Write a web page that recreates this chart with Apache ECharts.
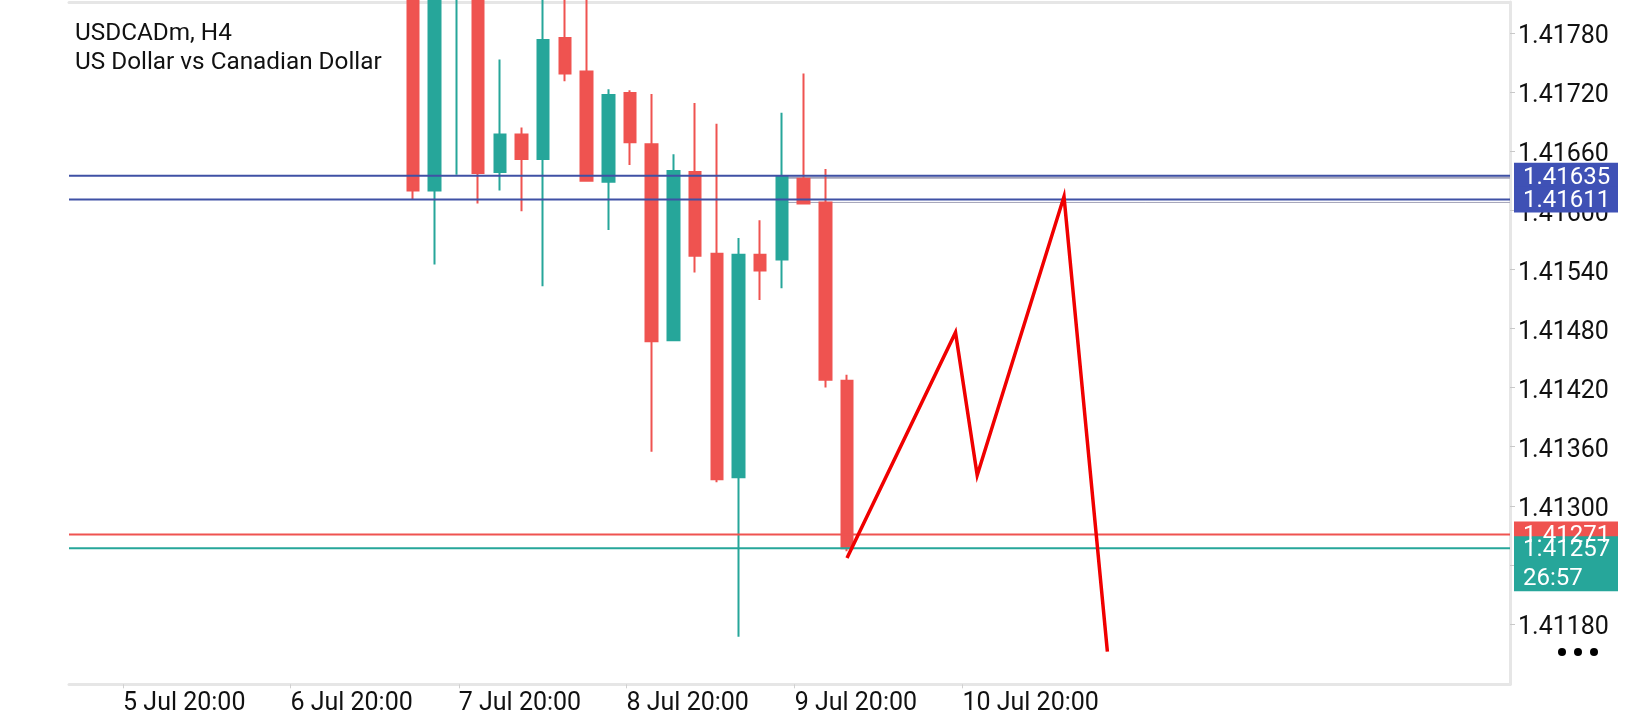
<!DOCTYPE html>
<html>
<head>
<meta charset="utf-8">
<script src="https://cdn.jsdelivr.net/npm/echarts@6/dist/echarts.min.js"></script>
<style>
html,body{margin:0;padding:0;background:#fff;}
#c{width:1640px;height:720px;}
</style>
</head>
<body>
<div id="c"></div>
<script>
// ---- data ----
const opens  = [1.41880,1.41620,1.41900,1.41960,1.41639,1.41677,1.41652,1.41775,1.41741,1.41629,1.41719,1.41667,1.41468,1.41639,1.41556,1.41329,1.41555,1.41550,1.41632,1.41608,1.41427];
const closes = [1.41620,1.41900,1.41950,1.41638,1.41677,1.41652,1.41773,1.41739,1.41630,1.41717,1.41669,1.41467,1.41640,1.41554,1.41327,1.41555,1.41539,1.41634,1.41607,1.41428,1.41257];
const lows   = [1.41611,1.41545,1.41636,1.41607,1.41620,1.41599,1.41523,1.41731,1.41630,1.41580,1.41646,1.41355,1.41468,1.41537,1.41324,1.41167,1.41509,1.41521,1.41607,1.41420,1.41254];
const highs  = [1.41900,1.41920,1.41980,1.41980,1.41753,1.41684,1.41830,1.41830,1.41840,1.41723,1.41722,1.41718,1.41657,1.41709,1.41688,1.41572,1.41590,1.41699,1.41739,1.41642,1.41433];
const tickLabels = ['5 Jul 20:00','6 Jul 20:00','7 Jul 20:00','8 Jul 20:00','9 Jul 20:00','10 Jul 20:00'];
const tickAt = [-13.36,-5.65,2.11,9.84,17.59,25.32];
const priceTicks = [1.41180,1.41240,1.41300,1.41360,1.41420,1.41480,1.41540,1.41600,1.41660,1.41720,1.41780];
const zigzagX = [20,25,26,30,32];
const zigzagY = [1.41247,1.41476,1.41331,1.41614,1.41152];
const blueLevels = [1.41635,1.41611];
const grayLevels = [1.41633,1.41608];
const grayStart = 17;
const askPrice = 1.41271;
const bidPrice = 1.41257;
const timerText = '26:57';
const xMin = -15.853, xMax = 50.553;
const yMin = 1.411188, yMax = 1.418115;

const UP = '#26a69a', DOWN = '#ef5350', BLUE = '#3f51a5', GRID = '#e6e6e6';
const FONT = 'Roboto';

const candles = opens.map((o, i) => [i, o, closes[i], lows[i], highs[i]]);
const zig = zigzagX.map((x, i) => [x, zigzagY[i]]);

function hLine(v, x0, color, width, z) {
  return {
    type: 'line', data: [[x0, v], [xMax, v]], symbol: 'none', silent: true,
    lineStyle: {color: color, width: width}, z: z
  };
}

const chart = echarts.init(document.getElementById('c'), null, {renderer: 'canvas'});

const option = {
  animation: false,
  backgroundColor: '#fff',
  textStyle: {fontFamily: FONT},
  title: {
    text: 'USDCADm, H4\nUS Dollar vs Canadian Dollar',
    left: 75, top: 18.8, padding: 0,
    textStyle: {fontFamily: FONT, fontSize: 24.3, fontWeight: 'normal', color: '#111', lineHeight: 29.5}
  },
  grid: {left: 69, right: 130, top: 2, bottom: 35.7, containLabel: false},
  xAxis: [{
    type: 'value', min: xMin, max: xMax,
    splitLine: {show: false},
    axisLine: {show: true, onZero: false, lineStyle: {color: GRID, width: 3}},
    axisTick: {show: true, length: 4, lineStyle: {color: '#d0d0d0', width: 1}, customValues: tickAt},
    axisLabel: {
      show: true, customValues: tickAt, align: 'left', margin: 7,
      fontFamily: FONT, fontSize: 25, color: '#111',
      formatter: function (v) {
        for (let k = 0; k < tickAt.length; k++) if (Math.abs(tickAt[k] - v) < 1e-6) return tickLabels[k];
        return '';
      }
    }
  }, {
    type: 'value', min: xMin, max: xMax, position: 'top',
    splitLine: {show: false}, axisTick: {show: false}, axisLabel: {show: false},
    axisLine: {show: true, onZero: false, lineStyle: {color: GRID, width: 3}}
  }],
  yAxis: {
    type: 'value', position: 'right', min: yMin, max: yMax, scale: true,
    splitLine: {show: false},
    axisLine: {show: true, onZero: false, lineStyle: {color: GRID, width: 3}},
    axisTick: {show: true, length: 5, inside: false, lineStyle: {color: '#c8c8c8', width: 1}, customValues: priceTicks},
    axisLabel: {
      show: true, customValues: priceTicks, margin: 8, verticalAlign: 'top', lineHeight: 8,
      fontFamily: FONT, fontSize: 25, color: '#111',
      formatter: v => v.toFixed(5)
    }
  },
  series: [{
    type: 'candlestick',
    data: candles,
    encode: {x: 0, y: [1, 2, 3, 4]},
    barWidth: 12,
    clip: true,
    z: 2,
    itemStyle: {color: UP, color0: DOWN, borderColor: UP, borderColor0: DOWN, borderWidth: 2}
  },
    hLine(grayLevels[0], grayStart, '#a3a3b8', 2, 1),
    hLine(grayLevels[1], grayStart, '#a3a3b8', 1, 1),
    hLine(blueLevels[0], xMin, BLUE, 2, 3),
    hLine(blueLevels[1], xMin, BLUE, 2, 3),
    hLine(askPrice, xMin, DOWN, 2, 3),
    hLine(bidPrice, xMin, UP, 2, 3),
  {
    type: 'line', data: zig, symbol: 'none', silent: true,
    lineStyle: {color: '#f00000', width: 3.5, join: 'miter'}, z: 5
  }]
};
chart.setOption(option);

// price tags on the right, positioned through the y axis scale
const gx = chart.convertToPixel({xAxisIndex: 0}, xMax) + 4;
const py = v => chart.convertToPixel({yAxisIndex: 0}, v);
const tagW = 104;
const graphics = [];
function tag(v, color, h, topOff, lines) {
  const y = py(v);
  graphics.push({type: 'rect', z: 100, shape: {x: gx, y: y - topOff, width: tagW, height: h}, style: {fill: color}});
  lines.forEach((t, k) => {
    graphics.push({type: 'text', z: 101, x: gx + 9, y: y + 2 + k * 29,
      style: {text: t, fill: '#fff', font: '24px ' + FONT, textVerticalAlign: 'middle', textAlign: 'left'}});
  });
}
tag(blueLevels[0], '#3f51b5', 26, 13, [blueLevels[0].toFixed(5)]);
tag(blueLevels[1], '#3f51b5', 26, 13, [blueLevels[1].toFixed(5)]);
tag(askPrice, DOWN, 26, 13, [askPrice.toFixed(5)]);
tag(bidPrice, UP, 55, 12, [bidPrice.toFixed(5), timerText]);
// menu dots
[0, 1, 2].forEach(k => graphics.push({type: 'circle', z: 100, shape: {cx: 1562 + k * 16, cy: 652, r: 4}, style: {fill: '#000'}}));
chart.setOption({graphic: graphics});
</script>
</body>
</html>
